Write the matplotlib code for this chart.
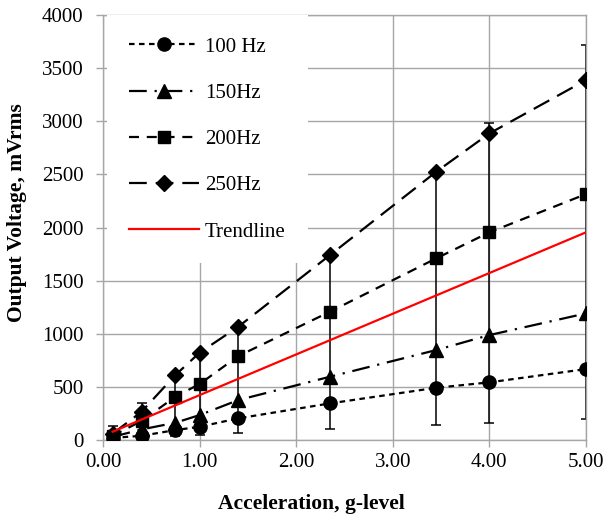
import matplotlib
matplotlib.use("Agg")
import matplotlib.pyplot as plt
import numpy as np

plt.rcParams['font.family'] = ['Liberation Serif', 'DejaVu Serif']

# ---- data ----
accel = [0.1, 0.4, 0.75, 1.0, 1.4, 2.35, 3.45, 4.0, 5.0]
v100 = [20, 40, 94, 125, 204, 345, 492, 543, 668]
v150 = [30, 100, 163, 235, 376, 596, 847, 988, 1192]
v200 = [40, 180, 408, 527, 790, 1208, 1710, 1955, 2315]
v250 = [60, 267, 612, 822, 1066, 1741, 2525, 2886, 3388]
err_low = [0, 25, 38, 47, 63, 100, 141, 157, 198]
err_high = [135, 351, 612, 822, 1066, 1741, 2525, 2987, 3718]
trend_x = [0.1, 5.0]
trend_y = [78, 1955]
labels = ["100 Hz", "150Hz", "200Hz", "250Hz", "Trendline"]
x_ticks = [0, 1, 2, 3, 4, 5]
y_ticks = [0, 500, 1000, 1500, 2000, 2500, 3000, 3500, 4000]

fig = plt.figure(figsize=(6.04, 5.22), dpi=100)
ax = fig.add_axes([0.1705, 0.157, 0.7995, 0.814])

grid_c = '#a6a6a6'
ax.set_axisbelow(True)
ax.grid(True, color=grid_c, linewidth=1.0)

# error bars
a250 = np.array(v250)
lo = a250 - np.array(err_low)
hi = np.array(err_high) - a250
ax.errorbar(accel, v250, yerr=[lo, hi], fmt='none', ecolor='black',
            elinewidth=1.1, capsize=3.6, capthick=1.1, zorder=2)

lw = 1.6
ax.plot(accel, v100, color='black', linestyle=(0, (2.5, 2.0)), linewidth=lw,
        marker='o', markersize=9.5, label=labels[0], zorder=3)
ax.plot(accel, v150, color='black', linestyle=(0, (8, 3.5, 1, 3.5)), linewidth=lw,
        marker='^', markersize=10, label=labels[1], zorder=3)
ax.plot(accel, v200, color='black', linestyle=(0, (4.5, 3.5)), linewidth=lw,
        marker='s', markersize=8.5, label=labels[2], zorder=3)
ax.plot(accel, v250, color='black', linestyle=(0, (8, 4)), linewidth=lw,
        marker='D', markersize=8.5, label=labels[3], zorder=3)
ax.plot(trend_x, trend_y, color='red', linewidth=1.6, label=labels[4], zorder=4)

ax.set_xlim(0, 5)
ax.set_ylim(0, 4000)
ax.set_xticks(x_ticks)
ax.set_xticklabels([f"{t:.2f}" for t in x_ticks])
ax.set_yticks(y_ticks)
ax.tick_params(axis='both', labelsize=15, color=grid_c, length=5, width=1)
ax.tick_params(axis='x', pad=4)
ax.tick_params(axis='y', pad=9)
for s in ax.spines.values():
    s.set_color(grid_c)
    s.set_linewidth(1.0)

ax.set_xlabel("Acceleration, g-level", fontsize=15.5, fontweight='bold')
ax.xaxis.set_label_coords(0.432, -0.127)
ax.xaxis.label.set_va('top')
ax.set_ylabel("Output Voltage, mVrms", fontsize=15.5, fontweight='bold')
ax.yaxis.set_label_coords(-0.1575, 0.535)

leg = ax.legend(loc='upper left', bbox_to_anchor=(0.0085, 1.0), frameon=True,
                fontsize=15, handlelength=3.35, labelspacing=1.28,
                borderpad=1.05, handletextpad=0.3, borderaxespad=0.0)
leg.get_frame().set_facecolor('white')
leg.get_frame().set_edgecolor('none')
leg.get_frame().set_alpha(1.0)
leg.get_frame().set_boxstyle('square', pad=0)

fig.savefig("out.png", dpi=100)
